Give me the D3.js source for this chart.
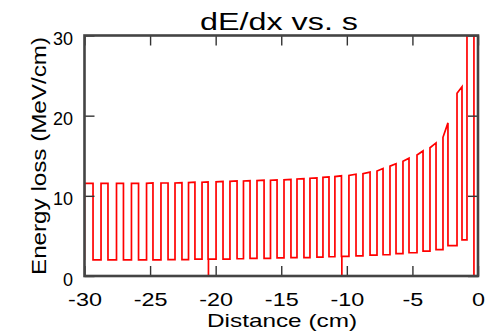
<!DOCTYPE html>
<html>
<head>
<meta charset="utf-8">
<script src="https://cdn.jsdelivr.net/npm/d3@7"></script>
<style>
  body { margin: 0; background: #fff; }
  text { font-family: "Liberation Sans", Arial, sans-serif; fill: #000; }
</style>
</head>
<body>
<div id="chart"></div>
<script>
// distance (cm) where the trace steps up / down
const riseS = [-30, -28.74, -27.56, -26.42, -25.27, -24.17, -23.10, -22.07, -21.04, -19.97,
  -18.91, -17.88, -16.85, -15.82, -14.79, -13.80, -12.81, -11.82, -10.91, -9.84,
  -8.77, -7.70, -6.71, -5.72, -4.65, -3.66, -2.67, -1.60];
const fallS = [-29.35, -28.21, -27.03, -25.88, -24.78, -23.63, -22.57, -21.58, -20.58, -19.44,
  -18.37, -17.38, -16.31, -15.32, -14.26, -13.27, -12.28, -11.36, -10.41, -9.30,
  -8.23, -7.24, -6.25, -5.26, -4.19, -3.20, -2.29, -1.22];
// energy loss (MeV/cm) at the top of each step, start and end
const topRise = [11.55, 11.55, 11.55, 11.55, 11.55, 11.6, 11.6, 11.65, 11.7, 11.75,
  11.8, 11.85, 11.9, 11.95, 12.0, 12.1, 12.2, 12.3, 12.4, 12.55,
  12.75, 13.1, 13.7, 14.3, 15.1, 16.0, 17.3, 22.8];
const topFall = [11.55, 11.55, 11.55, 11.55, 11.6, 11.6, 11.65, 11.7, 11.75, 11.8,
  11.85, 11.9, 11.95, 12.0, 12.05, 12.15, 12.25, 12.35, 12.5, 12.7,
  12.95, 13.4, 14.0, 14.7, 15.6, 16.6, 19.1, 23.6];
// low level before the first step and after each step
const lowE = [2.0, 2.0, 2.0, 2.0, 2.0, 2.0, 2.05, 2.05, 2.1, 2.1,
  2.1, 2.15, 2.2, 2.2, 2.25, 2.3, 2.3, 2.35, 2.4, 2.45,
  2.5, 2.6, 2.65, 2.8, 2.9, 3.1, 3.3, 3.8, 4.5];
// places where the trace drops to zero
const dropS = [-20.55, -10.38];
// Bragg peak at the end of the track
const peakS = [-0.84, -0.31];
const peakE = 45;

const xTicks = [-30, -25, -20, -15, -10, -5, 0];
const yTicks = [0, 10, 20, 30];

const W = 485, H = 333;
const margin = {top: 35.5, right: 7, bottom: 57, left: 84.5};
const width = W - margin.left - margin.right,
  height = H - margin.top - margin.bottom;

const svg = d3.select("#chart").append("svg")
  .attr("width", W)
  .attr("height", H);

const g = svg.append("g")
  .attr("transform", `translate(${margin.left},${margin.top})`);

const x = d3.scaleLinear().domain([-30, 0]).range([0, width]);
const y = d3.scaleLinear().domain([0, 30]).range([height, 0]);

// build the stepped trace
const pts = [[riseS[0], lowE[0]]];
riseS.forEach((s, i) => {
  pts.push([s, lowE[i]]);
  pts.push([s, topRise[i]]);
  pts.push([fallS[i], topFall[i]]);
  pts.push([fallS[i], lowE[i + 1]]);
  const next = i + 1 < riseS.length ? riseS[i + 1] : peakS[0];
  dropS.filter(d => d > fallS[i] && d < next).forEach(d => {
    pts.push([d, lowE[i + 1]], [d, 0], [d, lowE[i + 1]]);
  });
});
pts.push([peakS[0], lowE[lowE.length - 1]]);
pts.push([peakS[0], peakE]);
pts.push([peakS[1], peakE]);
pts.push([peakS[1], 0]);

svg.append("defs").append("clipPath").attr("id", "clip")
  .append("rect").attr("width", width).attr("height", height);

g.append("path")
  .datum(pts)
  .attr("clip-path", "url(#clip)")
  .attr("fill", "none")
  .attr("stroke", "#ff0000")
  .attr("stroke-width", 1.7)
  .attr("d", d3.line().x(d => x(d[0])).y(d => y(d[1])));

// axes with inward ticks
const fmt = d => String(d);
const xb = g.append("g").attr("transform", `translate(0,${height})`)
  .call(d3.axisBottom(x).tickValues(xTicks).tickSizeInner(-10).tickSizeOuter(0).tickFormat(fmt));
const xt = g.append("g")
  .call(d3.axisTop(x).tickValues(xTicks).tickSizeInner(-10).tickSizeOuter(0).tickFormat(""));
const yl = g.append("g")
  .call(d3.axisLeft(y).tickValues(yTicks).tickSizeInner(-10).tickSizeOuter(0).tickFormat(fmt));
const yr = g.append("g").attr("transform", `translate(${width},0)`)
  .call(d3.axisRight(y).tickValues(yTicks).tickSizeInner(-10).tickSizeOuter(0).tickFormat(""));

[xb, xt, yl, yr].forEach(a => {
  a.select(".domain").remove();
  a.selectAll(".tick line").attr("stroke", "#333").attr("stroke-width", 1.4);
});

xb.selectAll(".tick text")
  .attr("y", 30).attr("dy", null)
  .style("font-size", "18px")
  .each(function() {
    const t = d3.select(this);
    t.attr("textLength", this.getComputedTextLength() * 1.3)
      .attr("lengthAdjust", "spacingAndGlyphs");
  });

yl.selectAll(".tick text")
  .attr("x", -11.5).attr("dy", "9px")
  .style("font-size", "18px");

// frame
g.append("rect")
  .attr("width", width).attr("height", height)
  .attr("fill", "none")
  .attr("stroke", "#444")
  .attr("stroke-width", 2.6);

// title and labels
svg.append("text")
  .attr("x", 279).attr("y", 30)
  .attr("text-anchor", "middle")
  .style("font-size", "23px")
  .attr("textLength", 158).attr("lengthAdjust", "spacingAndGlyphs")
  .text("dE/dx vs. s");

svg.append("text")
  .attr("x", 282).attr("y", 327)
  .attr("text-anchor", "middle")
  .style("font-size", "19px")
  .attr("textLength", 150).attr("lengthAdjust", "spacingAndGlyphs")
  .text("Distance (cm)");

svg.append("text")
  .attr("transform", "translate(46,156) rotate(-90)")
  .attr("text-anchor", "middle")
  .style("font-size", "20px")
  .attr("textLength", 238).attr("lengthAdjust", "spacingAndGlyphs")
  .text("Energy loss (MeV/cm)");
</script>
</body>
</html>
